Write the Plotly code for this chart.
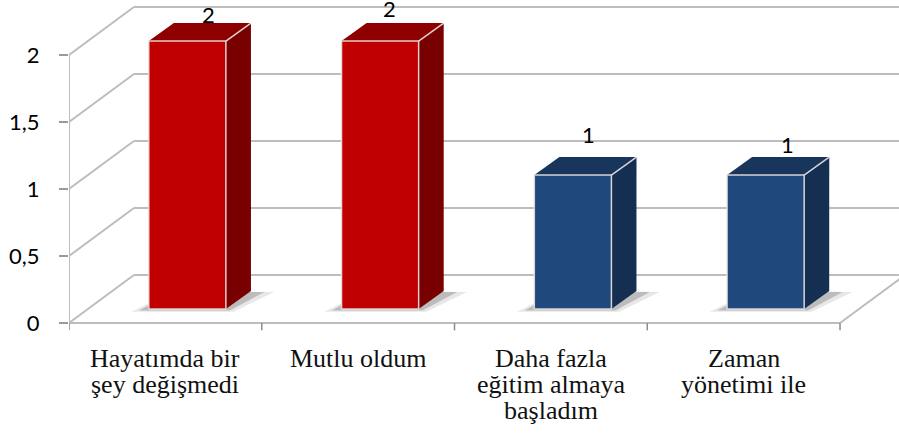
import plotly.graph_objects as go

# ---- data ----
categories = [
    ["Hayatımda bir", "şey değişmedi"],
    ["Mutlu oldum"],
    ["Daha fazla", "eğitim almaya", "başladım"],
    ["Zaman", "yönetimi ile"],
]
values = [2, 2, 1, 1]
value_labels = ["2", "2", "1", "1"]
y_ticks = [0, 0.5, 1, 1.5, 2]
y_tick_text = ["0", "0,5", "1", "1,5", "2"]

# ---- styling / geometry (not data) ----
front_colors = ["#C00000", "#C00000", "#1F497D", "#1F497D"]
top_colors = ["#8E0000", "#8E0000", "#18365C", "#18365C"]
side_colors = ["#780000", "#780000", "#152F52", "#152F52"]
label_shift = [(21, -27), (9, -33), (16, -41), (22, -31)]  # px offsets of value labels

W, H = 899, 437
ML = 69
X_RANGE = [0, 4.306]
Y_RANGE = [-0.8507, 2.4104]
WALL_DX, WALL_DY = 0.337, 0.358   # 3D depth of back wall in axis units
BAR_W = 0.40
BAR_XS, BAR_Y0 = 0.114, 0.104    # bar front face placement in depth
BAR_DX, BAR_DY = 0.130, 0.134    # bar depth
GRID = "#BDBDBD"
SERIF = "Liberation Serif, Times New Roman, serif"
SANS = "Lato, Open Sans, sans-serif"

fig = go.Figure()

def line(xs, ys, color=GRID, width=2):
    fig.add_trace(go.Scatter(x=xs, y=ys, mode="lines", line=dict(color=color, width=width),
                             hoverinfo="skip", showlegend=False))

def poly(xs, ys, fill, lc="rgba(0,0,0,0)", lw=0):
    fig.add_trace(go.Scatter(x=xs + [xs[0]], y=ys + [ys[0]], mode="lines", fill="toself",
                             fillcolor=fill, line=dict(color=lc, width=lw),
                             hoverinfo="skip", showlegend=False))

n = len(values)
ymax = max(y_ticks)
# back wall gridlines + side wall diagonals
for v in y_ticks:
    line([WALL_DX, n + WALL_DX + 0.2], [v + WALL_DY, v + WALL_DY])
    line([0, WALL_DX], [v, v + WALL_DY])
# front vertical axis line
line([0, 0], [0, ymax])
# floor front edge and right edge
line([0, n], [0, 0])
line([n, n + WALL_DX], [0, WALL_DY])
# category ticks on floor
for i in range(n + 1):
    line([i, i], [0, -0.055], color="#8C8C8C", width=1.5)

EDGE = "rgba(235,225,225,0.9)"
for i, v in enumerate(values):
    xl = i + 0.5 + BAR_XS - BAR_W / 2
    xr = xl + BAR_W
    y0 = BAR_Y0
    yt = v + BAR_Y0
    # soft floor shadow
    poly([xl - 0.09, xr + 0.04, xr + BAR_DX + 0.12, xl + BAR_DX],
         [y0 - 0.02, y0 - 0.02, y0 + BAR_DY * 0.95, y0 + BAR_DY], "rgba(160,160,160,0.25)")
    poly([xl - 0.05, xr + 0.02, xr + BAR_DX + 0.07, xl + BAR_DX],
         [y0 - 0.01, y0 - 0.01, y0 + BAR_DY * 0.95, y0 + BAR_DY], "rgba(110,110,110,0.35)")
    # side face
    poly([xr, xr + BAR_DX, xr + BAR_DX, xr], [y0, y0 + BAR_DY, yt + BAR_DY, yt], side_colors[i])
    # top face
    poly([xl, xl + BAR_DX, xr + BAR_DX, xr], [yt, yt + BAR_DY, yt + BAR_DY, yt], top_colors[i])
    # front face
    poly([xl, xr, xr, xl], [y0, y0, yt, yt], front_colors[i], lc=EDGE, lw=1.5)
    # edge between top and side
    line([xr, xr + BAR_DX], [yt, yt + BAR_DY], color=EDGE, width=1.5)
    # value label
    dx, dy = label_shift[i]
    fig.add_annotation(x=(xl + xr) / 2, y=yt, text=value_labels[i], showarrow=False,
                       xshift=dx, yshift=-dy, xanchor="center", yanchor="middle",
                       font=dict(family=SANS, size=22, color="#000000"))

# category labels (one annotation per line for tight line spacing)
for i, lines in enumerate(categories):
    for k, t in enumerate(lines):
        fig.add_annotation(x=i + 0.5, y=0, text=t, showarrow=False,
                           xanchor="center", yanchor="middle", yshift=-35 - 26 * k,
                           font=dict(family=SERIF, size=26, color="#111111"))

fig.update_layout(
    width=W, height=H,
    margin=dict(l=ML, r=0, t=0, b=0),
    paper_bgcolor="white", plot_bgcolor="white",
    xaxis=dict(range=X_RANGE, visible=False, fixedrange=True),
    yaxis=dict(range=Y_RANGE, showgrid=False, zeroline=False, showline=False,
               tickmode="array", tickvals=y_ticks, ticktext=y_tick_text,
               ticks="outside", ticklen=9, tickcolor="#9A9A9A", tickwidth=1.5,
               ticklabelstandoff=15,
               tickfont=dict(family=SANS, size=22, color="#000000"), fixedrange=True),
    showlegend=False,
)

fig.write_html("out.html", config={"displayModeBar": False},
               post_script="document.body.style.margin='0px';")
